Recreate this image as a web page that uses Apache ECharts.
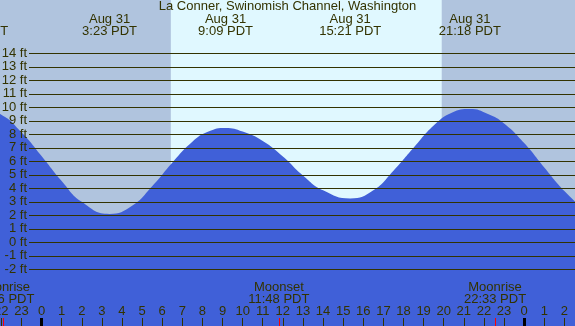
<!DOCTYPE html>
<html>
<head>
<meta charset="utf-8">
<script src="https://cdn.jsdelivr.net/npm/echarts@6/dist/echarts.min.js"></script>
<style>
  html, body { margin: 0; padding: 0; }
  #chart { width: 575px; height: 326px; }
</style>
</head>
<body>
<div id="chart"></div>
<script>
// hours since midnight Aug 31 (PDT), tide height in feet
const tideHours = [-3.2, -2, -1, 0, 1, 2, 3.38, 4.5, 5.5, 6.5, 7.5, 8.3, 9.15, 10, 11, 12, 13, 14, 15.35, 16.5, 17.5, 18.5, 19.5, 20.4, 21.3, 22.2, 23, 24, 25, 26, 27];
const tideFeet = [10.0, 9.45, 8.15, 6.4, 4.55, 3.0, 2.1, 2.7, 4.15, 5.9, 7.45, 8.2, 8.47, 8.2, 7.5, 6.35, 4.95, 3.85, 3.25, 3.85, 5.3, 7.0, 8.65, 9.6, 9.87, 9.5, 8.8, 7.35, 5.55, 3.8, 2.4];

// high / low tide labels along the top
const extremeHours = [-3.2, 3.383, 9.15, 15.35, 21.3];
const extremeLabels = ['Aug 30\n20:48 PDT', 'Aug 31\n3:23 PDT', 'Aug 31\n9:09 PDT', 'Aug 31\n15:21 PDT', 'Aug 31\n21:18 PDT'];

// moon events along the bottom
const moonHours = [-1.9, 11.8, 22.55];
const moonLabels = ['Moonrise\n22:06 PDT', 'Moonset\n11:48 PDT', 'Moonrise\n22:33 PDT'];

const sunrise = 6.43;
const sunset = 19.9;
const midnights = [0, 24];

const xMin = -4, xMax = 27;
const ftMin = -2, ftMax = 14;

const ink = '#333300';
const font = "'Liberation Sans', Arial, sans-serif";
const fs = 13;

// plot spans a bit past the canvas so that hour -4 / 27 fall outside it
const plotBox = { left: -38.9, right: -9.5, top: 0, bottom: 0, outerBoundsMode: 'none', containLabel: false };

const chart = echarts.init(document.getElementById('chart'));

chart.setOption({
  backgroundColor: '#B0C4DE',
  animation: false,
  textStyle: { fontFamily: font },
  title: {
    text: 'La Conner, Swinomish Channel, Washington',
    left: 'center',
    top: 0,
    padding: 0,
    textStyle: { fontSize: fs, fontWeight: 'normal', color: ink, fontFamily: font }
  },
  grid: [
    Object.assign({}, plotBox),
    { left: 29, right: 0, top: 53.3, bottom: 56.7, outerBoundsMode: 'none', containLabel: false },
    Object.assign({}, plotBox),
    Object.assign({}, plotBox)
  ],
  xAxis: [
    {
      // hour ticks
      gridIndex: 0, type: 'value', min: xMin, max: xMax, interval: 1, position: 'bottom', z: 5,
      axisLine: { show: false, onZero: false },
      axisTick: { inside: true, length: 8, lineStyle: { color: ink, width: 1 } },
      axisLabel: {
        inside: true, margin: 8, fontSize: fs, color: ink, fontFamily: font,
        formatter: v => String(((v % 24) + 24) % 24)
      },
      splitLine: { show: false }
    },
    { gridIndex: 1, type: 'value', min: 0, max: 1, show: false },
    {
      // midnight ticks
      gridIndex: 2, type: 'value', min: xMin, max: xMax, position: 'bottom', z: 5,
      axisLine: { show: false, onZero: false },
      axisTick: { inside: true, length: 8, customValues: midnights, lineStyle: { color: '#000', width: 3 } },
      axisLabel: { show: false },
      splitLine: { show: false }
    },
    {
      // tide extremes
      gridIndex: 2, type: 'value', min: xMin, max: xMax, position: 'top', z: 5,
      axisLine: { show: false, onZero: false },
      axisTick: { show: false },
      axisLabel: {
        inside: true, margin: 13, fontSize: fs, lineHeight: 12, color: ink, fontFamily: font,
        customValues: extremeHours,
        formatter: v => extremeLabels[extremeHours.indexOf(v)] || ''
      },
      splitLine: { show: false }
    },
    {
      // moon events
      gridIndex: 3, type: 'value', min: xMin, max: xMax, position: 'bottom', z: 6,
      axisLine: { show: false, onZero: false },
      axisTick: { inside: true, length: 8, customValues: moonHours, lineStyle: { color: '#FF0000', width: 1 } },
      axisLabel: {
        inside: true, margin: 21, fontSize: fs, lineHeight: 12, color: ink, fontFamily: font,
        customValues: moonHours,
        formatter: v => moonLabels[moonHours.indexOf(v)] || ''
      },
      splitLine: { show: false }
    }
  ],
  yAxis: [
    { gridIndex: 0, type: 'value', min: -6.2, max: 17.95, show: false },
    {
      gridIndex: 1, type: 'value', min: ftMin, max: ftMax, interval: 1, z: 4,
      axisLine: { show: false },
      axisTick: { show: false },
      axisLabel: { margin: 2, fontSize: fs, color: ink, fontFamily: font, formatter: v => v + ' ft' },
      splitLine: { show: true, lineStyle: { color: ink, width: 1 } }
    },
    { gridIndex: 2, type: 'value', min: 0, max: 1, show: false },
    { gridIndex: 3, type: 'value', min: 0, max: 1, show: false }
  ],
  series: [
    {
      // daylight band
      type: 'line', xAxisIndex: 0, yAxisIndex: 0, data: [], z: 1, silent: true,
      markArea: {
        silent: true,
        itemStyle: { color: '#E0F8FF' },
        data: [[{ xAxis: sunrise }, { xAxis: sunset }]]
      }
    },
    {
      type: 'line', xAxisIndex: 0, yAxisIndex: 0, z: 2,
      data: tideHours.map((h, i) => [h, tideFeet[i]]),
      smooth: 0.5,
      showSymbol: false,
      lineStyle: { width: 0 },
      areaStyle: { color: '#4060D8', opacity: 1, origin: 'start' }
    }
  ]
});
</script>
</body>
</html>
